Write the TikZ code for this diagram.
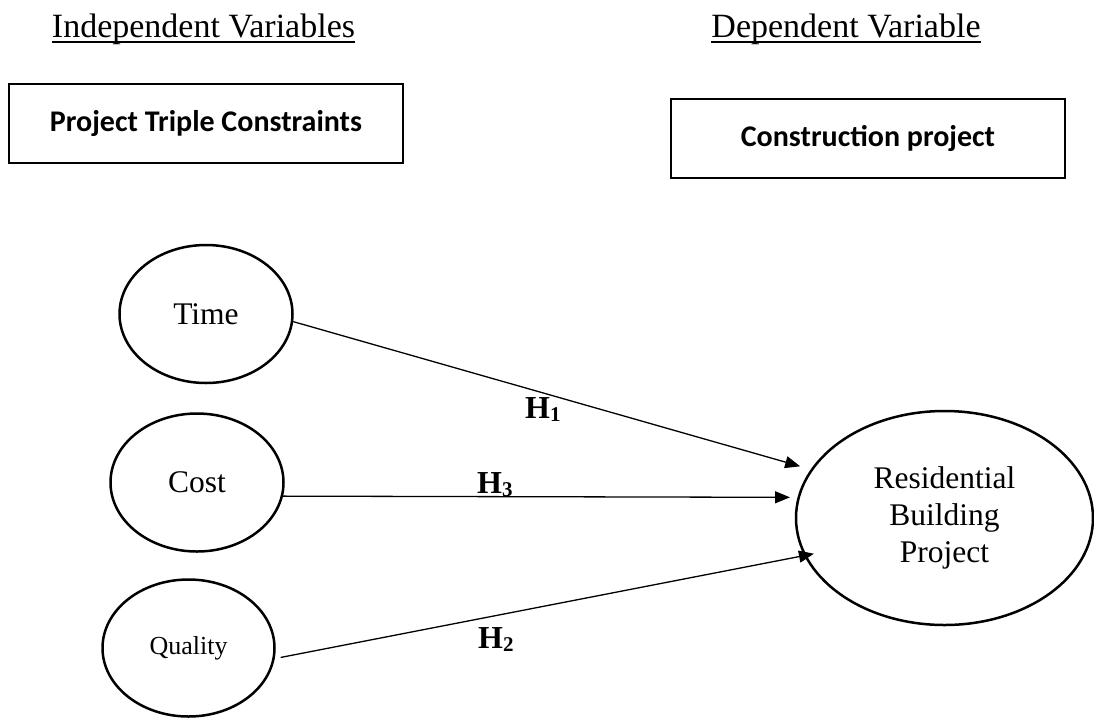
\documentclass[tikz,border=0pt]{standalone}
\usepackage{fontspec}
\setmainfont{Liberation Serif}
\newfontfamily\boxfont{Carlito}
\usetikzlibrary{arrows.meta,shapes.geometric}
\newcommand\hlab[1]{\textbf{H\raisebox{-3pt}{\fontsize{21}{21}\selectfont #1}}}
\begin{document}
\begin{tikzpicture}[x=1pt,y=-1pt,
  heading/.style={inner sep=0pt,font=\fontsize{34}{40}\selectfont},
  ulin/.style={line width=1.5pt},
  topbox/.style={draw,line width=2.7pt,rectangle,minimum width=394pt,minimum height=79pt,inner sep=0pt,font=\boxfont\bfseries\fontsize{30}{36}\selectfont},
  var/.style={draw,ellipse,line width=2.5pt,inner sep=0pt,minimum width=173pt,minimum height=138pt,font=\fontsize{31.5}{37}\selectfont},
  arr/.style={line width=1.3pt,-{Triangle[length=15pt,width=12pt]}},
  hl/.style={inner sep=0pt,anchor=base west,font=\fontsize{32}{36}\selectfont}]
\useasboundingbox (0,0) rectangle (1094,718);
% headings
\node[heading,anchor=base] (hind) at (203.5,37) {Independent Variables};
\node[heading,anchor=base] (hdep) at (846,37) {Dependent Variable};
\draw[ulin] ([yshift=-5pt]hind.base west) -- ([yshift=-5pt]hind.base east);
\draw[ulin] ([yshift=-5pt]hdep.base west) -- ([yshift=-5pt]hdep.base east);
% boxes
\node[topbox] (ptc) at (206,123.5) {Project Triple Constraints};
\node[topbox] (cp) at (868,138.5) {Construction project};
% ellipses
\node[var] (time) at (206,314) {Time};
\node[var] (cost) at (197,482.5) {Cost};
\node[var,font=\fontsize{26}{30}\selectfont,minimum width=172pt,minimum height=137pt] (qual) at (188.5,648) {Quality};
\node[var,minimum width=297pt,minimum height=214pt,align=center] (res) at (944.5,518) {Residential\\Building\\Project};
% arrows
\draw[arr,shorten >=11pt] (time.-5) -- (res.160);
\draw[arr,shorten >=7.5pt] (cost.-9) -- (res.172);
\draw[arr,shorten <=6pt,shorten >=-10pt] (qual.-7) -- (res.195);
% labels
\node[hl] (h1) at (525,418) {\hlab{1}};
\node[hl] (h3) at (477,493) {\hlab{3}};
\node[hl] (h2) at (478,648) {\hlab{2}};
\end{tikzpicture}
\end{document}
